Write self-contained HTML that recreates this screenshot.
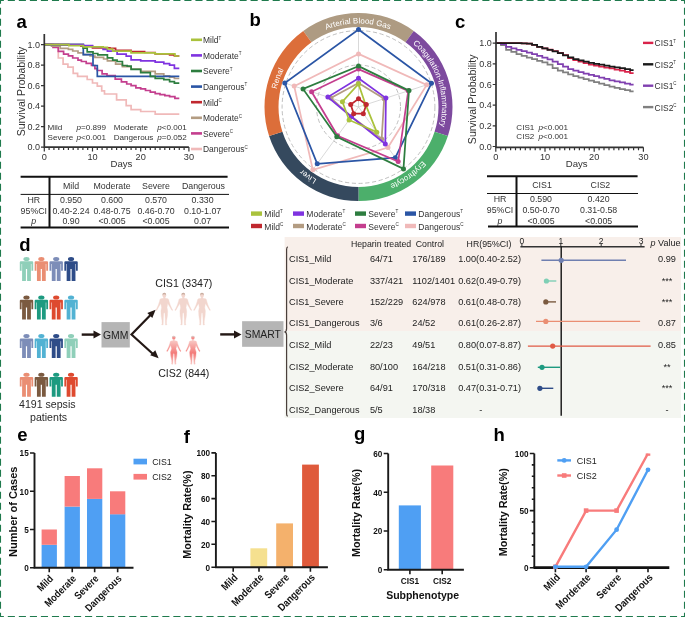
<!DOCTYPE html>
<html><head><meta charset="utf-8"><style>
html,body{margin:0;padding:0;background:#fff;}
svg{display:block;will-change:transform;}
svg text{font-family:"Liberation Sans", sans-serif;}
</style></head><body>
<svg width="685" height="617" viewBox="0 0 685 617">
<rect width="685" height="617" fill="#fff"/>
<text x="16.5" y="27.7" font-size="18.5" font-weight="bold" fill="#000">a</text>
<text x="249.6" y="25.7" font-size="18.5" font-weight="bold" fill="#000">b</text>
<text x="455.1" y="27.6" font-size="18.5" font-weight="bold" fill="#000">c</text>
<text x="19.2" y="250.5" font-size="18.5" font-weight="bold" fill="#000">d</text>
<text x="17.2" y="440.8" font-size="18.5" font-weight="bold" fill="#000">e</text>
<text x="183.8" y="443.4" font-size="18.5" font-weight="bold" fill="#000">f</text>
<text x="354" y="440.1" font-size="18.5" font-weight="bold" fill="#000">g</text>
<text x="493.4" y="440.7" font-size="18.5" font-weight="bold" fill="#000">h</text>
<path d="M44.3,44.7H58.3V58.0H63.1V64.2H67.9V67.2H73.2V73.4H77.6V76.4H87.2V79.5H92.5V83.0H97.3V86.2H101.7V90.8H104.5V94.0H116.6V99.9H126.2V105.7H131.1V109.6H140.7V111.5H155.2V114.1H179.3" fill="none" stroke="#f0b9b9" stroke-width="1.7"/>
<path d="M44.3,44.7H53.0V47.4H58.3V51.4H63.6V54.1H68.4V55.9H72.7V58.0H78.0V60.2H81.4V61.5H86.2V63.3H91.5V65.5H94.9V68.6H97.3V70.5H102.1V73.8H107.0V75.7H115.2V79.1H121.4V81.8H126.7V84.0H131.1V85.6H135.9V87.9H140.7V88.8H145.5V90.5H150.3V92.1H155.2V93.6H160.0V94.7H164.8V95.7H169.6V96.6H174.9V98.4H179.3" fill="none" stroke="#c43e8e" stroke-width="1.7"/>
<path d="M44.3,44.7H51.5V46.2H60.2V48.3H68.4V49.3H72.7V51.0H78.0V52.8H83.3V54.6H90.1V56.0H94.9V57.3H103.6V59.0H107.4V60.8H115.6V64.2H122.4V66.7H131.1V69.0H140.7V71.3H155.2V73.9H163.8V75.8H169.6V77.2H174.4V78.5H179.3" fill="none" stroke="#b39c82" stroke-width="1.7"/>
<path d="M44.3,44.7H68.4V45.2H80.9V46.2H92.5V47.8H109.9V48.3H115.6V50.3H131.1V51.6H144.6V52.5H155.2V53.9H169.6V54.9H174.4V56.0H179.3" fill="none" stroke="#c0282f" stroke-width="1.7"/>
<path d="M44.3,44.7H83.3V54.6H93.0V65.5H97.3V76.4H179.3" fill="none" stroke="#2a55a5" stroke-width="1.7"/>
<path d="M44.3,44.7H83.3V48.2H87.2V51.8H93.0V53.5H97.8V54.8H107.4V57.9H112.7V60.2H117.1V61.5H122.4V65.5H127.2V66.2H131.1V69.4H140.7V72.6H150.3V76.4H155.2V78.4H163.8V79.7H169.6V81.7H174.4V83.2H179.3" fill="none" stroke="#2d7d3f" stroke-width="1.7"/>
<path d="M44.3,44.7H83.3V45.7H92.5V46.9H103.1V49.4H107.4V51.2H117.1V54.2H126.2V56.2H131.1V59.8H140.7V60.9H155.2V62.1H163.8V63.6H169.6V65.2H174.4V68.3H179.3" fill="none" stroke="#7f33e0" stroke-width="1.7"/>
<path d="M44.3,44.7H68.9V45.7H83.3V46.9H103.1V47.3H107.4V49.0H112.7V51.2H131.1V52.9H155.2V53.9H174.9V56.0H179.3" fill="none" stroke="#aac23c" stroke-width="1.7"/>
<path d="M44.3,34V147.1H188.9" fill="none" stroke="#333" stroke-width="1.7"/>
<path d="M41,147.1H44.3M41,126.6H44.3M41,106.1H44.3M41,85.7H44.3M41,65.2H44.3M41,44.7H44.3M44.3,147.1v4.5M49.1,147.1v3M53.9,147.1v3M58.8,147.1v3M63.6,147.1v3M68.4,147.1v3M73.2,147.1v3M78.0,147.1v3M82.9,147.1v3M87.7,147.1v3M92.5,147.1v4.5M97.3,147.1v3M102.1,147.1v3M107.0,147.1v3M111.8,147.1v3M116.6,147.1v3M121.4,147.1v3M126.2,147.1v3M131.1,147.1v3M135.9,147.1v3M140.7,147.1v4.5M145.5,147.1v3M150.3,147.1v3M155.2,147.1v3M160.0,147.1v3M164.8,147.1v3M169.6,147.1v3M174.4,147.1v3M179.3,147.1v3M184.1,147.1v3M188.9,147.1v4.5" stroke="#333" stroke-width="1.2"/>
<text x="40" y="150.3" font-size="9" text-anchor="end" fill="#333">0.0</text>
<text x="40" y="129.8" font-size="9" text-anchor="end" fill="#333">0.2</text>
<text x="40" y="109.3" font-size="9" text-anchor="end" fill="#333">0.4</text>
<text x="40" y="88.9" font-size="9" text-anchor="end" fill="#333">0.6</text>
<text x="40" y="68.4" font-size="9" text-anchor="end" fill="#333">0.8</text>
<text x="40" y="47.9" font-size="9" text-anchor="end" fill="#333">1.0</text>
<text x="44.3" y="159.9" font-size="9.2" text-anchor="middle" fill="#333">0</text>
<text x="92.5" y="159.9" font-size="9.2" text-anchor="middle" fill="#333">10</text>
<text x="140.7" y="159.9" font-size="9.2" text-anchor="middle" fill="#333">20</text>
<text x="188.9" y="159.9" font-size="9.2" text-anchor="middle" fill="#333">30</text>
<text x="121.5" y="167.3" font-size="9.6" text-anchor="middle" fill="#333">Days</text>
<text transform="translate(25.3,91.5) rotate(-90)" font-size="10.55" text-anchor="middle" fill="#333">Survival Probability</text>
<g font-size="8.1" fill="#333"><text x="47.5" y="129.5">Mild</text><text x="76.4" y="129.5"><tspan font-style="italic">p</tspan>=0.899</text><text x="113.7" y="129.5">Moderate</text><text x="157.3" y="129.5"><tspan font-style="italic">p</tspan>&lt;0.001</text><text x="47.5" y="139.5">Severe</text><text x="76.4" y="139.5"><tspan font-style="italic">p</tspan>&lt;0.001</text><text x="113.7" y="139.5">Dangerous</text><text x="157.3" y="139.5"><tspan font-style="italic">p</tspan>=0.052</text></g>
<rect x="191" y="38.5" width="11" height="2.6" fill="#aac23c"/>
<text transform="translate(203,43.2) scale(0.9,1)" font-size="9.4" fill="#333">Mild<tspan font-size="5" dy="-3.6">T</tspan></text>
<rect x="191" y="54.1" width="11" height="2.6" fill="#7f33e0"/>
<text transform="translate(203,58.8) scale(0.9,1)" font-size="9.4" fill="#333">Moderate<tspan font-size="5" dy="-3.6">T</tspan></text>
<rect x="191" y="69.7" width="11" height="2.6" fill="#2d7d3f"/>
<text transform="translate(203,74.4) scale(0.9,1)" font-size="9.4" fill="#333">Severe<tspan font-size="5" dy="-3.6">T</tspan></text>
<rect x="191" y="85.3" width="11" height="2.6" fill="#2a55a5"/>
<text transform="translate(203,90.0) scale(0.9,1)" font-size="9.4" fill="#333">Dangerous<tspan font-size="5" dy="-3.6">T</tspan></text>
<rect x="191" y="100.9" width="11" height="2.6" fill="#c0282f"/>
<text transform="translate(203,105.6) scale(0.9,1)" font-size="9.4" fill="#333">Mild<tspan font-size="5" dy="-3.6">C</tspan></text>
<rect x="191" y="116.5" width="11" height="2.6" fill="#b39c82"/>
<text transform="translate(203,121.2) scale(0.9,1)" font-size="9.4" fill="#333">Moderate<tspan font-size="5" dy="-3.6">C</tspan></text>
<rect x="191" y="132.1" width="11" height="2.6" fill="#c43e8e"/>
<text transform="translate(203,136.8) scale(0.9,1)" font-size="9.4" fill="#333">Severe<tspan font-size="5" dy="-3.6">C</tspan></text>
<rect x="191" y="147.7" width="11" height="2.6" fill="#f0b9b9"/>
<text transform="translate(203,152.4) scale(0.9,1)" font-size="9.4" fill="#333">Dangerous<tspan font-size="5" dy="-3.6">C</tspan></text>
<path d="M20.6,176.7H227.6M20.6,227.6H229M49.5,176.7V227.6" stroke="#111" stroke-width="2" fill="none"/>
<path d="M20.6,194.4H229" stroke="#111" stroke-width="1" fill="none"/>
<g font-size="8.8" fill="#333" text-anchor="middle"><text x="71" y="189">Mild</text><text x="112" y="189">Moderate</text><text x="156" y="189">Severe</text><text x="203.5" y="189">Dangerous</text><text x="33.8" y="202.7">HR</text><text x="71" y="202.7">0.950</text><text x="112" y="202.7">0.600</text><text x="156" y="202.7">0.570</text><text x="202.6" y="202.7">0.330</text><text x="33.8" y="213.5">95%CI</text><text x="71" y="213.5">0.40-2.24</text><text x="112" y="213.5">0.48-0.75</text><text x="156" y="213.5">0.46-0.70</text><text x="202.6" y="213.5">0.10-1.07</text><text x="33.8" y="224.4" font-style="italic">p</text><text x="71" y="224.4">0.90</text><text x="112" y="224.4">&lt;0.005</text><text x="156" y="224.4">&lt;0.005</text><text x="202.6" y="224.4">0.07</text></g>
<path d="M303.25,30.95A94,94 0 0 1 413.75,30.95L405.52,42.28A80,80 0 0 0 311.48,42.28Z" fill="#ae9b82"/>
<path d="M413.75,30.95A94,94 0 0 1 447.90,136.05L434.58,131.72A80,80 0 0 0 405.52,42.28Z" fill="#7d4a9e"/>
<path d="M447.90,136.05A94,94 0 0 1 358.50,201.00L358.50,187.00A80,80 0 0 0 434.58,131.72Z" fill="#4caf6b"/>
<path d="M358.50,201.00A94,94 0 0 1 269.10,136.05L282.42,131.72A80,80 0 0 0 358.50,187.00Z" fill="#35495e"/>
<path d="M269.10,136.05A94,94 0 0 1 303.25,30.95L311.48,42.28A80,80 0 0 0 282.42,131.72Z" fill="#dc6e3a"/>
<defs><path id="rp0" d="M309.36,39.37A83.6,83.6 0 0 1 407.64,39.37"/><path id="rp1" d="M407.64,39.37A83.6,83.6 0 0 1 438.01,132.83"/><path id="rp2" d="M438.01,132.83A83.6,83.6 0 0 1 358.50,190.60"/><path id="rp3" d="M358.50,190.60A83.6,83.6 0 0 1 278.99,132.83"/><path id="rp4" d="M278.99,132.83A83.6,83.6 0 0 1 309.36,39.37"/></defs>
<text font-size="8.0" fill="#fff" text-anchor="middle"><textPath href="#rp0" startOffset="49.5%">Arterial Blood Gas</textPath></text>
<text font-size="8.0" fill="#fff" text-anchor="middle"><textPath href="#rp1" startOffset="50%">Coagulation-Inflammatory</textPath></text>
<text font-size="8.0" fill="#fff" text-anchor="middle"><textPath href="#rp2" startOffset="50%">Erythrocyte</textPath></text>
<text font-size="8.0" fill="#fff" text-anchor="middle"><textPath href="#rp3" startOffset="50%">Liver</textPath></text>
<text font-size="8.0" fill="#fff" text-anchor="middle"><textPath href="#rp4" startOffset="52%">Renal</textPath></text>
<circle cx="358.5" cy="107.0" r="76.4" fill="none" stroke="#b8b8b8" stroke-width="0.9" stroke-dasharray="4.2 2.6"/>
<circle cx="358.5" cy="107.0" r="42" fill="none" stroke="#b8b8b8" stroke-width="0.9" stroke-dasharray="4.2 2.6"/>
<path d="M358.5,107.0L358.50,30.00M358.5,107.0L431.73,83.21M358.5,107.0L403.76,169.29M358.5,107.0L313.24,169.29M358.5,107.0L285.27,83.21" stroke="#c8c8c8" stroke-width="0.7"/>
<path d="M358.50,53.90L426.69,84.84L387.95,147.53L312.83,169.86L294.21,86.11Z" fill="none" stroke="#f0b9b9" stroke-width="1.75"/>
<circle cx="358.50" cy="53.90" r="2.5" fill="#f0b9b9"/>
<circle cx="426.69" cy="84.84" r="2.5" fill="#f0b9b9"/>
<circle cx="387.95" cy="147.53" r="2.5" fill="#f0b9b9"/>
<circle cx="312.83" cy="169.86" r="2.5" fill="#f0b9b9"/>
<circle cx="294.21" cy="86.11" r="2.5" fill="#f0b9b9"/>
<path d="M358.50,29.50L431.45,83.30L395.30,157.64L317.24,163.79L284.79,83.05Z" fill="none" stroke="#2a55a5" stroke-width="1.75"/>
<circle cx="358.50" cy="29.50" r="2.5" fill="#2a55a5"/>
<circle cx="431.45" cy="83.30" r="2.5" fill="#2a55a5"/>
<circle cx="395.30" cy="157.64" r="2.5" fill="#2a55a5"/>
<circle cx="317.24" cy="163.79" r="2.5" fill="#2a55a5"/>
<circle cx="284.79" cy="83.05" r="2.5" fill="#2a55a5"/>
<path d="M358.50,69.10L408.24,90.84L398.18,161.61L337.57,135.80L311.61,91.77Z" fill="none" stroke="#c43e8e" stroke-width="1.75"/>
<circle cx="358.50" cy="69.10" r="2.5" fill="#c43e8e"/>
<circle cx="408.24" cy="90.84" r="2.5" fill="#c43e8e"/>
<circle cx="398.18" cy="161.61" r="2.5" fill="#c43e8e"/>
<circle cx="337.57" cy="135.80" r="2.5" fill="#c43e8e"/>
<circle cx="311.61" cy="91.77" r="2.5" fill="#c43e8e"/>
<path d="M358.50,66.10L409.00,90.59L403.47,168.89L336.81,136.85L303.05,88.98Z" fill="none" stroke="#2d7d3f" stroke-width="1.75"/>
<circle cx="358.50" cy="66.10" r="2.5" fill="#2d7d3f"/>
<circle cx="409.00" cy="90.59" r="2.5" fill="#2d7d3f"/>
<circle cx="403.47" cy="168.89" r="2.5" fill="#2d7d3f"/>
<circle cx="336.81" cy="136.85" r="2.5" fill="#2d7d3f"/>
<circle cx="303.05" cy="88.98" r="2.5" fill="#2d7d3f"/>
<path d="M358.50,83.00L384.18,98.66L381.66,138.88L351.45,116.71L330.92,98.04Z" fill="none" stroke="#b39c82" stroke-width="1.75"/>
<circle cx="358.50" cy="83.00" r="2.5" fill="#b39c82"/>
<circle cx="384.18" cy="98.66" r="2.5" fill="#b39c82"/>
<circle cx="381.66" cy="138.88" r="2.5" fill="#b39c82"/>
<circle cx="351.45" cy="116.71" r="2.5" fill="#b39c82"/>
<circle cx="330.92" cy="98.04" r="2.5" fill="#b39c82"/>
<path d="M358.50,78.20L385.89,98.10L385.30,143.89L351.39,116.79L327.88,97.05Z" fill="none" stroke="#7f33e0" stroke-width="1.75"/>
<circle cx="358.50" cy="78.20" r="2.5" fill="#7f33e0"/>
<circle cx="385.89" cy="98.10" r="2.5" fill="#7f33e0"/>
<circle cx="385.30" cy="143.89" r="2.5" fill="#7f33e0"/>
<circle cx="351.39" cy="116.79" r="2.5" fill="#7f33e0"/>
<circle cx="327.88" cy="97.05" r="2.5" fill="#7f33e0"/>
<path d="M358.50,84.00L365.63,104.68L376.78,132.16L349.10,119.94L342.43,101.78Z" fill="none" stroke="#aac23c" stroke-width="1.75"/>
<circle cx="358.50" cy="84.00" r="2.5" fill="#aac23c"/>
<circle cx="365.63" cy="104.68" r="2.5" fill="#aac23c"/>
<circle cx="376.78" cy="132.16" r="2.5" fill="#aac23c"/>
<circle cx="349.10" cy="119.94" r="2.5" fill="#aac23c"/>
<circle cx="342.43" cy="101.78" r="2.5" fill="#aac23c"/>
<path d="M358.50,98.80L366.30,104.47L363.32,113.63L353.68,113.63L350.70,104.47Z" fill="none" stroke="#c0282f" stroke-width="1.75"/>
<circle cx="358.50" cy="98.80" r="2.5" fill="#c0282f"/>
<circle cx="366.30" cy="104.47" r="2.5" fill="#c0282f"/>
<circle cx="363.32" cy="113.63" r="2.5" fill="#c0282f"/>
<circle cx="353.68" cy="113.63" r="2.5" fill="#c0282f"/>
<circle cx="350.70" cy="104.47" r="2.5" fill="#c0282f"/>
<rect x="251" y="211.4" width="11" height="4.4" fill="#aac23c"/>
<text transform="translate(264.3,217.1) scale(0.92,1)" font-size="9.3" fill="#333">Mild<tspan font-size="5" dy="-3.7">T</tspan></text>
<rect x="293" y="211.4" width="11" height="4.4" fill="#7f33e0"/>
<text transform="translate(306.3,217.1) scale(0.92,1)" font-size="9.3" fill="#333">Moderate<tspan font-size="5" dy="-3.7">T</tspan></text>
<rect x="355" y="211.4" width="11" height="4.4" fill="#2d7d3f"/>
<text transform="translate(368.3,217.1) scale(0.92,1)" font-size="9.3" fill="#333">Severe<tspan font-size="5" dy="-3.7">T</tspan></text>
<rect x="405" y="211.4" width="11" height="4.4" fill="#2a55a5"/>
<text transform="translate(418.3,217.1) scale(0.92,1)" font-size="9.3" fill="#333">Dangerous<tspan font-size="5" dy="-3.7">T</tspan></text>
<rect x="251" y="223.8" width="11" height="4.4" fill="#c0282f"/>
<text transform="translate(264.3,229.5) scale(0.92,1)" font-size="9.3" fill="#333">Mild<tspan font-size="5" dy="-3.7">C</tspan></text>
<rect x="293" y="223.8" width="11" height="4.4" fill="#b39c82"/>
<text transform="translate(306.3,229.5) scale(0.92,1)" font-size="9.3" fill="#333">Moderate<tspan font-size="5" dy="-3.7">C</tspan></text>
<rect x="355" y="223.8" width="11" height="4.4" fill="#c43e8e"/>
<text transform="translate(368.3,229.5) scale(0.92,1)" font-size="9.3" fill="#333">Severe<tspan font-size="5" dy="-3.7">C</tspan></text>
<rect x="405" y="223.8" width="11" height="4.4" fill="#f0b9b9"/>
<text transform="translate(418.3,229.5) scale(0.92,1)" font-size="9.3" fill="#333">Dangerous<tspan font-size="5" dy="-3.7">C</tspan></text>
<path d="M495.8,43.2H501.0V45.2H506.1V49.9H511.3V51.9H516.5V54.0H521.6V55.9H526.8V57.6H532.0V59.2H537.1V60.8H542.3V62.3H547.5V64.7H552.6V68.1H557.8V70.6H563.0V72.4H568.1V74.4H573.3V76.1H578.5V77.6H583.6V79.1H588.8V80.6H594.0V82.1H599.1V83.7H604.3V85.2H609.5V86.7H614.6V87.9H619.8V89.1H625.0V90.2H630.1V91.4H633.6" fill="none" stroke="#808080" stroke-width="1.75"/>
<path d="M495.8,43.2H501.0V44.0H506.1V46.9H511.3V48.4H516.5V49.8H521.6V51.2H526.8V52.6H532.0V54.1H537.1V55.8H542.3V57.5H547.5V59.4H552.6V61.6H557.8V64.0H563.0V66.6H568.1V69.0H573.3V70.7H578.5V72.1H583.6V73.5H588.8V74.8H594.0V76.2H599.1V77.5H604.3V78.9H609.5V80.3H614.6V81.3H619.8V82.4H625.0V83.5H630.1V84.5H633.6" fill="none" stroke="#8040b0" stroke-width="1.75"/>
<path d="M495.8,43.2H501.0H506.1H511.3H516.5H521.6V43.3H526.8V43.7H532.0V44.9H537.1V46.8H542.3V48.3H547.5V49.7H552.6V51.1H557.8V52.9H563.0V55.2H568.1V58.1H573.3V60.1H578.5V61.6H583.6V63.0H588.8V64.5H594.0V65.6H599.1V66.5H604.3V67.5H609.5V68.4H614.6V69.6H619.8V70.7H625.0V71.9H630.1V73.0H633.6" fill="none" stroke="#d9234a" stroke-width="1.75"/>
<path d="M495.8,43.2H501.0H506.1H511.3H516.5H521.6V43.3H526.8V43.7H532.0V44.9H537.1V46.8H542.3V48.3H547.5V49.8H552.6V51.3H557.8V53.2H563.0V55.4H568.1V57.4H573.3V59.0H578.5V60.3H583.6V61.6H588.8V62.9H594.0V63.9H599.1V64.7H604.3V65.6H609.5V66.5H614.6V67.3H619.8V68.2H625.0V69.1H630.1V70.0H633.6" fill="none" stroke="#1a1a1a" stroke-width="1.75"/>
<path d="M496,32V147.3H643.4" fill="none" stroke="#333" stroke-width="1.7"/>
<path d="M492.7,146.5H496M492.7,125.8H496M492.7,105.2H496M492.7,84.5H496M492.7,63.9H496M492.7,43.2H496M495.8,147.3v4.5M500.7,147.3v3M505.6,147.3v3M510.6,147.3v3M515.5,147.3v3M520.4,147.3v3M525.3,147.3v3M530.2,147.3v3M535.2,147.3v3M540.1,147.3v3M545.0,147.3v4.5M549.9,147.3v3M554.8,147.3v3M559.8,147.3v3M564.7,147.3v3M569.6,147.3v3M574.5,147.3v3M579.4,147.3v3M584.4,147.3v3M589.3,147.3v3M594.2,147.3v4.5M599.1,147.3v3M604.0,147.3v3M609.0,147.3v3M613.9,147.3v3M618.8,147.3v3M623.7,147.3v3M628.6,147.3v3M633.6,147.3v3M638.5,147.3v3M643.4,147.3v4.5" stroke="#333" stroke-width="1.2"/>
<text x="491.7" y="149.7" font-size="9" text-anchor="end" fill="#333">0.0</text>
<text x="491.7" y="129.0" font-size="9" text-anchor="end" fill="#333">0.2</text>
<text x="491.7" y="108.4" font-size="9" text-anchor="end" fill="#333">0.4</text>
<text x="491.7" y="87.7" font-size="9" text-anchor="end" fill="#333">0.6</text>
<text x="491.7" y="67.1" font-size="9" text-anchor="end" fill="#333">0.8</text>
<text x="491.7" y="46.4" font-size="9" text-anchor="end" fill="#333">1.0</text>
<text x="495.8" y="159.9" font-size="9.2" text-anchor="middle" fill="#333">0</text>
<text x="545.0" y="159.9" font-size="9.2" text-anchor="middle" fill="#333">10</text>
<text x="594.2" y="159.9" font-size="9.2" text-anchor="middle" fill="#333">20</text>
<text x="643.4" y="159.9" font-size="9.2" text-anchor="middle" fill="#333">30</text>
<text x="576.7" y="167.3" font-size="9.6" text-anchor="middle" fill="#333">Days</text>
<text transform="translate(476,99.3) rotate(-90)" font-size="10.55" text-anchor="middle" fill="#333">Survival Probability</text>
<g font-size="8.1" fill="#333"><text x="516.3" y="130">CIS1</text><text x="538.5" y="130"><tspan font-style="italic">p</tspan>&lt;0.001</text><text x="516.3" y="139.2">CIS2</text><text x="538.5" y="139.2"><tspan font-style="italic">p</tspan>&lt;0.001</text></g>
<rect x="643" y="41.7" width="10.3" height="2.4" fill="#d9234a"/>
<text transform="translate(654.6,46.4) scale(0.88,1)" font-size="9.6" fill="#333">CIS1<tspan font-size="5" dy="-3.9">T</tspan></text>
<rect x="643" y="63.1" width="10.3" height="2.4" fill="#1a1a1a"/>
<text transform="translate(654.6,67.8) scale(0.88,1)" font-size="9.6" fill="#333">CIS2<tspan font-size="5" dy="-3.9">T</tspan></text>
<rect x="643" y="84.5" width="10.3" height="2.4" fill="#8040b0"/>
<text transform="translate(654.6,89.2) scale(0.88,1)" font-size="9.6" fill="#333">CIS1<tspan font-size="5" dy="-3.9">C</tspan></text>
<rect x="643" y="105.9" width="10.3" height="2.4" fill="#808080"/>
<text transform="translate(654.6,110.6) scale(0.88,1)" font-size="9.6" fill="#333">CIS2<tspan font-size="5" dy="-3.9">C</tspan></text>
<path d="M487,176.2H637.6M488,226.5H638M516.5,176.2V226.5" stroke="#111" stroke-width="2" fill="none"/>
<path d="M487,193.5H638" stroke="#111" stroke-width="1" fill="none"/>
<g font-size="8.8" fill="#333" text-anchor="middle"><text x="542" y="188">CIS1</text><text x="600.4" y="188">CIS2</text><text x="500" y="201.6">HR</text><text x="541" y="201.6">0.590</text><text x="598.6" y="201.6">0.420</text><text x="500" y="213.0">95%CI</text><text x="541" y="213.0">0.50-0.70</text><text x="598.6" y="213.0">0.31-0.58</text><text x="500" y="224.4" font-style="italic">p</text><text x="541" y="224.4">&lt;0.005</text><text x="598.6" y="224.4">&lt;0.005</text></g>
<ellipse cx="26.5" cy="258.90" rx="3.1" ry="2.0" fill="#8fcfb9"/><path d="M19.80,262.20Q19.80,261.20 20.80,261.20H32.20Q33.20,261.20 33.20,262.20V270.70H31.40V264.00H30.90V280.90H27.10V269.00H25.90V280.90H22.10V264.00H21.60V270.70H19.80Z" fill="#8fcfb9"/><ellipse cx="41.35" cy="258.90" rx="3.1" ry="2.0" fill="#ea8e73"/><path d="M34.65,262.20Q34.65,261.20 35.65,261.20H47.05Q48.05,261.20 48.05,262.20V270.70H46.25V264.00H45.75V280.90H41.95V269.00H40.75V280.90H36.95V264.00H36.45V270.70H34.65Z" fill="#ea8e73"/><ellipse cx="56.2" cy="258.90" rx="3.1" ry="2.0" fill="#7d8db8"/><path d="M49.50,262.20Q49.50,261.20 50.50,261.20H61.90Q62.90,261.20 62.90,262.20V270.70H61.10V264.00H60.60V280.90H56.80V269.00H55.60V280.90H51.80V264.00H51.30V270.70H49.50Z" fill="#7d8db8"/><ellipse cx="71.05" cy="258.90" rx="3.1" ry="2.0" fill="#2e4c88"/><path d="M64.35,262.20Q64.35,261.20 65.35,261.20H76.75Q77.75,261.20 77.75,262.20V270.70H75.95V264.00H75.45V280.90H71.65V269.00H70.45V280.90H66.65V264.00H66.15V270.70H64.35Z" fill="#2e4c88"/><ellipse cx="26.5" cy="297.50" rx="3.1" ry="2.0" fill="#7b5a40"/><path d="M19.80,300.80Q19.80,299.80 20.80,299.80H32.20Q33.20,299.80 33.20,300.80V309.30H31.40V302.60H30.90V319.50H27.10V307.60H25.90V319.50H22.10V302.60H21.60V309.30H19.80Z" fill="#7b5a40"/><ellipse cx="41.35" cy="297.50" rx="3.1" ry="2.0" fill="#1d9a80"/><path d="M34.65,300.80Q34.65,299.80 35.65,299.80H47.05Q48.05,299.80 48.05,300.80V309.30H46.25V302.60H45.75V319.50H41.95V307.60H40.75V319.50H36.95V302.60H36.45V309.30H34.65Z" fill="#1d9a80"/><ellipse cx="56.2" cy="297.50" rx="3.1" ry="2.0" fill="#de4a2f"/><path d="M49.50,300.80Q49.50,299.80 50.50,299.80H61.90Q62.90,299.80 62.90,300.80V309.30H61.10V302.60H60.60V319.50H56.80V307.60H55.60V319.50H51.80V302.60H51.30V309.30H49.50Z" fill="#de4a2f"/><ellipse cx="71.05" cy="297.50" rx="3.1" ry="2.0" fill="#52b2d3"/><path d="M64.35,300.80Q64.35,299.80 65.35,299.80H76.75Q77.75,299.80 77.75,300.80V309.30H75.95V302.60H75.45V319.50H71.65V307.60H70.45V319.50H66.65V302.60H66.15V309.30H64.35Z" fill="#52b2d3"/><ellipse cx="26.5" cy="336.10" rx="3.1" ry="2.0" fill="#7d8db8"/><path d="M19.80,339.40Q19.80,338.40 20.80,338.40H32.20Q33.20,338.40 33.20,339.40V347.90H31.40V341.20H30.90V358.10H27.10V346.20H25.90V358.10H22.10V341.20H21.60V347.90H19.80Z" fill="#7d8db8"/><ellipse cx="41.35" cy="336.10" rx="3.1" ry="2.0" fill="#52b2d3"/><path d="M34.65,339.40Q34.65,338.40 35.65,338.40H47.05Q48.05,338.40 48.05,339.40V347.90H46.25V341.20H45.75V358.10H41.95V346.20H40.75V358.10H36.95V341.20H36.45V347.90H34.65Z" fill="#52b2d3"/><ellipse cx="56.2" cy="336.10" rx="3.1" ry="2.0" fill="#2e4c88"/><path d="M49.50,339.40Q49.50,338.40 50.50,338.40H61.90Q62.90,338.40 62.90,339.40V347.90H61.10V341.20H60.60V358.10H56.80V346.20H55.60V358.10H51.80V341.20H51.30V347.90H49.50Z" fill="#2e4c88"/><ellipse cx="71.05" cy="336.10" rx="3.1" ry="2.0" fill="#8fcfb9"/><path d="M64.35,339.40Q64.35,338.40 65.35,338.40H76.75Q77.75,338.40 77.75,339.40V347.90H75.95V341.20H75.45V358.10H71.65V346.20H70.45V358.10H66.65V341.20H66.15V347.90H64.35Z" fill="#8fcfb9"/><ellipse cx="26.5" cy="374.70" rx="3.1" ry="2.0" fill="#ea8e73"/><path d="M19.80,378.00Q19.80,377.00 20.80,377.00H32.20Q33.20,377.00 33.20,378.00V386.50H31.40V379.80H30.90V396.70H27.10V384.80H25.90V396.70H22.10V379.80H21.60V386.50H19.80Z" fill="#ea8e73"/><ellipse cx="41.35" cy="374.70" rx="3.1" ry="2.0" fill="#7b5a40"/><path d="M34.65,378.00Q34.65,377.00 35.65,377.00H47.05Q48.05,377.00 48.05,378.00V386.50H46.25V379.80H45.75V396.70H41.95V384.80H40.75V396.70H36.95V379.80H36.45V386.50H34.65Z" fill="#7b5a40"/><ellipse cx="56.2" cy="374.70" rx="3.1" ry="2.0" fill="#1d9a80"/><path d="M49.50,378.00Q49.50,377.00 50.50,377.00H61.90Q62.90,377.00 62.90,378.00V386.50H61.10V379.80H60.60V396.70H56.80V384.80H55.60V396.70H51.80V379.80H51.30V386.50H49.50Z" fill="#1d9a80"/><ellipse cx="71.05" cy="374.70" rx="3.1" ry="2.0" fill="#de4a2f"/><path d="M64.35,378.00Q64.35,377.00 65.35,377.00H76.75Q77.75,377.00 77.75,378.00V386.50H75.95V379.80H75.45V396.70H71.65V384.80H70.45V396.70H66.65V379.80H66.15V386.50H64.35Z" fill="#de4a2f"/>
<text x="47.3" y="408.2" font-size="10.6" text-anchor="middle" fill="#2a2a2a">4191 sepsis</text>
<text x="48.6" y="420.8" font-size="10.6" text-anchor="middle" fill="#2a2a2a">patients</text>
<path d="M81.7,334.6H95" stroke="#231815" stroke-width="2.4"/><path d="M101,334.6L93.5,330.6V338.6Z" fill="#231815"/>
<rect x="101.5" y="322.1" width="28.3" height="25.4" fill="#b5b5b5"/>
<text x="115.6" y="338.6" font-size="10.4" text-anchor="middle" fill="#222">GMM</text>
<path d="M150.5,315 L131.5,334.5 L153,354" fill="none" stroke="#231815" stroke-width="2.2"/>
<path d="M155.6,309.8L147.3,313.0L152.3,318.0Z" fill="#231815"/>
<path d="M158.6,358.2L150.2,355.3L155.3,350.2Z" fill="#231815"/>
<text x="183.8" y="286.5" font-size="10.6" text-anchor="middle" fill="#222">CIS1 (3347)</text>
<text x="183.8" y="377.2" font-size="10.6" text-anchor="middle" fill="#222">CIS2 (844)</text>
<defs><linearGradient id="fg" x1="0" y1="0" x2="0" y2="1"><stop offset="0" stop-color="#f9cdc9"/><stop offset="0.55" stop-color="#f37a78"/><stop offset="1" stop-color="#f8c2bf"/></linearGradient></defs>
<path d="M165.11,297.33 L165.21,298.33 L168.02,298.84 L168.63,299.44 L169.13,301.45 L170.24,304.97 L171.85,308.60 L172.75,310.01 L172.35,310.61 L171.55,309.91 L169.94,306.99 L167.72,303.47 L167.02,307.49 L167.72,311.01 L167.42,316.04 L166.61,320.57 L166.51,323.69 L167.02,324.70 L165.51,325.00 L165.41,323.69 L165.21,318.06 L164.90,313.53 L164.30,312.62 L163.70,313.53 L163.39,318.06 L163.19,323.69 L163.09,325.00 L161.58,324.70 L162.09,323.69 L161.99,320.57 L161.18,316.04 L160.88,311.01 L161.58,307.49 L160.88,303.47 L158.67,306.99 L157.06,309.91 L156.25,310.61 L155.85,310.01 L156.75,308.60 L158.36,304.97 L159.47,301.45 L159.97,299.44 L160.58,298.84 L163.39,298.33 L163.50,297.33Z" fill="#f2d6ce" stroke="#f2d6ce" stroke-width="0.35" stroke-linejoin="round"/><ellipse cx="164.30" cy="295.21" rx="1.91" ry="2.42" fill="#f2d6ce"/><path d="M162.39,294.91Q162.39,292.80 164.30,292.80Q166.21,292.80 166.21,294.91Q164.30,293.81 162.39,294.91Z" fill="#c9aea0"/>
<path d="M184.11,297.33 L184.21,298.33 L187.02,298.84 L187.63,299.44 L188.13,301.45 L189.24,304.97 L190.85,308.60 L191.75,310.01 L191.35,310.61 L190.55,309.91 L188.94,306.99 L186.72,303.47 L186.02,307.49 L186.72,311.01 L186.42,316.04 L185.61,320.57 L185.51,323.69 L186.02,324.70 L184.51,325.00 L184.41,323.69 L184.21,318.06 L183.90,313.53 L183.30,312.62 L182.70,313.53 L182.39,318.06 L182.19,323.69 L182.09,325.00 L180.58,324.70 L181.09,323.69 L180.99,320.57 L180.18,316.04 L179.88,311.01 L180.58,307.49 L179.88,303.47 L177.67,306.99 L176.06,309.91 L175.25,310.61 L174.85,310.01 L175.75,308.60 L177.36,304.97 L178.47,301.45 L178.97,299.44 L179.58,298.84 L182.39,298.33 L182.50,297.33Z" fill="#f2d6ce" stroke="#f2d6ce" stroke-width="0.35" stroke-linejoin="round"/><ellipse cx="183.30" cy="295.21" rx="1.91" ry="2.42" fill="#f2d6ce"/><path d="M181.39,294.91Q181.39,292.80 183.30,292.80Q185.21,292.80 185.21,294.91Q183.30,293.81 181.39,294.91Z" fill="#c9aea0"/>
<path d="M202.81,297.33 L202.91,298.33 L205.72,298.84 L206.33,299.44 L206.83,301.45 L207.94,304.97 L209.55,308.60 L210.45,310.01 L210.05,310.61 L209.25,309.91 L207.63,306.99 L205.42,303.47 L204.72,307.49 L205.42,311.01 L205.12,316.04 L204.31,320.57 L204.21,323.69 L204.72,324.70 L203.21,325.00 L203.11,323.69 L202.91,318.06 L202.60,313.53 L202.00,312.62 L201.40,313.53 L201.09,318.06 L200.89,323.69 L200.79,325.00 L199.28,324.70 L199.79,323.69 L199.69,320.57 L198.88,316.04 L198.58,311.01 L199.28,307.49 L198.58,303.47 L196.37,306.99 L194.75,309.91 L193.95,310.61 L193.55,310.01 L194.45,308.60 L196.06,304.97 L197.17,301.45 L197.67,299.44 L198.28,298.84 L201.09,298.33 L201.19,297.33Z" fill="#f2d6ce" stroke="#f2d6ce" stroke-width="0.35" stroke-linejoin="round"/><ellipse cx="202.00" cy="295.21" rx="1.91" ry="2.42" fill="#f2d6ce"/><path d="M200.09,294.91Q200.09,292.80 202.00,292.80Q203.91,292.80 203.91,294.91Q202.00,293.81 200.09,294.91Z" fill="#c9aea0"/>
<path d="M174.52,339.73 L174.60,340.63 L176.75,341.07 L177.29,341.61 L177.73,343.40 L178.72,346.53 L180.15,349.74 L180.95,350.99 L180.59,351.53 L179.88,350.90 L178.45,348.31 L176.84,345.18 L175.95,348.76 L177.02,351.89 L176.75,356.36 L175.86,360.38 L175.77,363.15 L176.21,364.04 L174.87,364.31 L174.78,363.15 L174.60,358.14 L174.34,354.12 L173.80,353.32 L173.26,354.12 L173.00,358.14 L172.82,363.15 L172.73,364.31 L171.39,364.04 L171.83,363.15 L171.74,360.38 L170.85,356.36 L170.58,351.89 L171.66,348.76 L170.76,345.18 L169.15,348.31 L167.72,350.90 L167.01,351.53 L166.65,350.99 L167.45,349.74 L168.88,346.53 L169.87,343.40 L170.31,341.61 L170.85,341.07 L173.00,340.63 L173.09,339.73Z" fill="url(#fg)" stroke="url(#fg)" stroke-width="0.35" stroke-linejoin="round"/><ellipse cx="173.80" cy="337.86" rx="1.70" ry="2.15" fill="url(#fg)"/><path d="M172.10,337.59Q172.10,335.71 173.80,335.71Q175.50,335.71 175.50,337.59Q173.80,336.60 172.10,337.59Z" fill="#d8c4c0"/>
<path d="M193.62,339.73 L193.70,340.63 L195.85,341.07 L196.39,341.61 L196.83,343.40 L197.82,346.53 L199.25,349.74 L200.05,350.99 L199.69,351.53 L198.98,350.90 L197.55,348.31 L195.94,345.18 L195.05,348.76 L196.12,351.89 L195.85,356.36 L194.96,360.38 L194.87,363.15 L195.31,364.04 L193.97,364.31 L193.88,363.15 L193.70,358.14 L193.44,354.12 L192.90,353.32 L192.36,354.12 L192.10,358.14 L191.92,363.15 L191.83,364.31 L190.49,364.04 L190.93,363.15 L190.84,360.38 L189.95,356.36 L189.68,351.89 L190.75,348.76 L189.86,345.18 L188.25,348.31 L186.82,350.90 L186.11,351.53 L185.75,350.99 L186.55,349.74 L187.98,346.53 L188.97,343.40 L189.41,341.61 L189.95,341.07 L192.10,340.63 L192.19,339.73Z" fill="url(#fg)" stroke="url(#fg)" stroke-width="0.35" stroke-linejoin="round"/><ellipse cx="192.90" cy="337.86" rx="1.70" ry="2.15" fill="url(#fg)"/><path d="M191.20,337.59Q191.20,335.71 192.90,335.71Q194.60,335.71 194.60,337.59Q192.90,336.60 191.20,337.59Z" fill="#d8c4c0"/>
<path d="M220.2,334.4H235" stroke="#231815" stroke-width="2.4"/><path d="M241.5,334.4L234,330.4V338.4Z" fill="#231815"/>
<rect x="242.1" y="321.2" width="41.4" height="25.6" fill="#b5b5b5"/>
<text x="262.8" y="338.3" font-size="10.4" text-anchor="middle" fill="#222">SMART</text>
<rect x="284.6" y="237" width="396.4" height="94" fill="#f8efea"/>
<rect x="284.6" y="331" width="396.4" height="87" fill="#f4f6f1"/>
<path d="M287.8,246.8 Q286.6,247.3 286.6,249.5 V328.5 Q286.6,331.9 284.4,331.9 Q286.6,331.9 286.6,335.3 V414 Q286.6,415.9 287.8,416.3" fill="none" stroke="#4a403c" stroke-width="1.2"/>
<g font-size="9.2" fill="#222"><text x="381.1" y="246.9" text-anchor="middle" font-size="8.75">Heparin treated</text><text x="429.9" y="246.9" text-anchor="middle" font-size="8.75">Control</text><text x="466.6" y="246.9" font-size="8.75">HR(95%CI)</text><text x="289" y="261.7">CIS1_Mild</text><text x="369.9" y="261.7">64/71</text><text x="412.3" y="261.7">176/189</text><text x="458.2" y="261.7">1.00(0.40-2.52)</text><text x="667" y="261.7" text-anchor="middle">0.99</text><text x="289" y="283.8">CIS1_Moderate</text><text x="369.9" y="283.8">337/421</text><text x="412.3" y="283.8">1102/1401</text><text x="458.2" y="283.8">0.62(0.49-0.79)</text><text x="667" y="284.0" text-anchor="middle">***</text><text x="289" y="305.0">CIS1_Severe</text><text x="369.9" y="305.0">152/229</text><text x="412.3" y="305.0">624/978</text><text x="458.2" y="305.0">0.61(0.48-0.78)</text><text x="667" y="305.2" text-anchor="middle">***</text><text x="289" y="325.9">CIS1_Dangerous</text><text x="369.9" y="325.9">3/6</text><text x="412.3" y="325.9">24/52</text><text x="458.2" y="325.9">0.61(0.26-2.87)</text><text x="667" y="325.9" text-anchor="middle">0.87</text><text x="289" y="348.2">CIS2_Mild</text><text x="369.9" y="348.2">22/23</text><text x="412.3" y="348.2">49/51</text><text x="458.2" y="348.2">0.80(0.07-8.87)</text><text x="667" y="348.2" text-anchor="middle">0.85</text><text x="289" y="369.7">CIS2_Moderate</text><text x="369.9" y="369.7">80/100</text><text x="412.3" y="369.7">164/218</text><text x="458.2" y="369.7">0.51(0.31-0.86)</text><text x="667" y="369.9" text-anchor="middle">**</text><text x="289" y="390.9">CIS2_Severe</text><text x="369.9" y="390.9">64/91</text><text x="412.3" y="390.9">170/318</text><text x="458.2" y="390.9">0.47(0.31-0.71)</text><text x="667" y="391.1" text-anchor="middle">***</text><text x="289" y="412.5">CIS2_Dangerous</text><text x="369.9" y="412.5">5/5</text><text x="412.3" y="412.5">18/38</text><text x="480.7" y="412.5" text-anchor="middle">-</text><text x="667" y="412.5" text-anchor="middle">-</text></g>
<path d="M520.4,246.7H644.6" stroke="#333" stroke-width="1.4"/>
<path d="M521.9,246.5v-3M560.8,246.5v-3M601.2,246.5v-3M641,246.5v-3" stroke="#333" stroke-width="1"/>
<text x="521.9" y="244" font-size="8.5" text-anchor="middle" fill="#222">0</text>
<text x="560.8" y="244" font-size="8.5" text-anchor="middle" fill="#222">1</text>
<text x="601.2" y="244" font-size="8.5" text-anchor="middle" fill="#222">2</text>
<text x="641" y="244" font-size="8.5" text-anchor="middle" fill="#222">3</text>
<text x="650.6" y="245.6" font-size="9" fill="#222"><tspan font-style="italic">p</tspan> Value</text>
<path d="M561.2,246.5V415.8" stroke="#111" stroke-width="1.4"/>
<path d="M541.4,260.3H626" stroke="#6f7fb0" stroke-width="1.4"/><circle cx="561.2" cy="260.3" r="2.6" fill="#6f7fb0"/>
<path d="M546,281H556.3" stroke="#7fcfb5" stroke-width="1.4"/><circle cx="546.4" cy="281" r="2.6" fill="#7fcfb5"/>
<path d="M546,301.9H556" stroke="#7b5a40" stroke-width="1.4"/><circle cx="545.8" cy="301.9" r="2.6" fill="#7b5a40"/>
<path d="M536,321.4H640.1" stroke="#ea8e73" stroke-width="1.4"/><circle cx="545.8" cy="321.4" r="2.6" fill="#ea8e73"/>
<path d="M527.9,346.1H650.6" stroke="#e05a45" stroke-width="1.4"/><circle cx="552.7" cy="346.1" r="2.6" fill="#e05a45"/>
<path d="M537.8,367.3H560.2" stroke="#1d9a80" stroke-width="1.4"/><circle cx="542" cy="367.3" r="2.6" fill="#1d9a80"/>
<path d="M539.9,388.3H553.3" stroke="#2e4c88" stroke-width="1.4"/><circle cx="539.9" cy="388.3" r="2.6" fill="#2e4c88"/>
<rect x="41.6" y="544.8" width="15.3" height="23.0" fill="#4f9ff3"/>
<rect x="41.6" y="529.5" width="15.3" height="15.3" fill="#f87b7b"/>
<rect x="64.6" y="506.6" width="15.3" height="61.2" fill="#4f9ff3"/>
<rect x="64.6" y="476.0" width="15.3" height="30.6" fill="#f87b7b"/>
<rect x="87" y="498.9" width="15.3" height="68.9" fill="#4f9ff3"/>
<rect x="87" y="468.3" width="15.3" height="30.6" fill="#f87b7b"/>
<rect x="110" y="514.2" width="15.3" height="53.6" fill="#4f9ff3"/>
<rect x="110" y="491.3" width="15.3" height="23.0" fill="#f87b7b"/>
<path d="M34.5,452.9V567.8H133.5" fill="none" stroke="#1a1a1a" stroke-width="1.9"/>
<path d="M30.0,567.8H34.5M30.0,529.5H34.5M30.0,491.3H34.5M30.0,453.0H34.5M49.25,567.8v4.5M72.25,567.8v4.5M94.65,567.8v4.5M117.65,567.8v4.5" stroke="#1a1a1a" stroke-width="1.6"/>
<text transform="translate(28.7,571.2) scale(0.87,1)" font-size="9.4" font-weight="bold" text-anchor="end" fill="#111">0</text>
<text transform="translate(28.7,532.9) scale(0.87,1)" font-size="9.4" font-weight="bold" text-anchor="end" fill="#111">5</text>
<text transform="translate(28.7,494.7) scale(0.87,1)" font-size="9.4" font-weight="bold" text-anchor="end" fill="#111">10</text>
<text transform="translate(28.7,456.4) scale(0.87,1)" font-size="9.4" font-weight="bold" text-anchor="end" fill="#111">15</text>
<text transform="translate(53.8,579.3) rotate(-45) scale(0.86,1)" font-size="10.4" font-weight="bold" text-anchor="end" fill="#111">Mild</text>
<text transform="translate(76.8,579.3) rotate(-45) scale(0.86,1)" font-size="10.4" font-weight="bold" text-anchor="end" fill="#111">Moderate</text>
<text transform="translate(99.2,579.3) rotate(-45) scale(0.86,1)" font-size="10.4" font-weight="bold" text-anchor="end" fill="#111">Severe</text>
<text transform="translate(122.2,579.3) rotate(-45) scale(0.86,1)" font-size="10.4" font-weight="bold" text-anchor="end" fill="#111">Dangerous</text>
<text transform="translate(17.3,511.8) rotate(-90)" font-size="11" font-weight="bold" text-anchor="middle" fill="#111">Number of Cases</text>
<rect x="133.5" y="458.7" width="13.5" height="5.7" fill="#4f9ff3"/><rect x="133.5" y="473.9" width="13.5" height="5.7" fill="#f87b7b"/>
<text x="152.2" y="464.8" font-size="8.8" fill="#222">CIS1</text><text x="152.2" y="480" font-size="8.8" fill="#222">CIS2</text>
<rect x="250.4" y="548.3" width="16.8" height="18.9" fill="#f5e08f"/>
<rect x="276.2" y="523.4" width="16.8" height="43.8" fill="#f4b16c"/>
<rect x="302.1" y="464.6" width="16.8" height="102.6" fill="#df5a3b"/>
<path d="M215.9,452.9V567.2H327.9" fill="none" stroke="#1a1a1a" stroke-width="1.9"/>
<path d="M211.4,567.2H215.9M211.4,544.3H215.9M211.4,521.5H215.9M211.4,498.6H215.9M211.4,475.8H215.9M211.4,452.9H215.9M233.2,567.2v4.5M259,567.2v4.5M284.6,567.2v4.5M310.4,567.2v4.5" stroke="#1a1a1a" stroke-width="1.6"/>
<text transform="translate(210.1,570.6) scale(0.87,1)" font-size="9.4" font-weight="bold" text-anchor="end" fill="#111">0</text>
<text transform="translate(210.1,547.7) scale(0.87,1)" font-size="9.4" font-weight="bold" text-anchor="end" fill="#111">20</text>
<text transform="translate(210.1,524.9) scale(0.87,1)" font-size="9.4" font-weight="bold" text-anchor="end" fill="#111">40</text>
<text transform="translate(210.1,502.0) scale(0.87,1)" font-size="9.4" font-weight="bold" text-anchor="end" fill="#111">60</text>
<text transform="translate(210.1,479.2) scale(0.87,1)" font-size="9.4" font-weight="bold" text-anchor="end" fill="#111">80</text>
<text transform="translate(210.1,456.3) scale(0.87,1)" font-size="9.4" font-weight="bold" text-anchor="end" fill="#111">100</text>
<text transform="translate(238.5,578.2) rotate(-45) scale(0.86,1)" font-size="10.6" font-weight="bold" text-anchor="end" fill="#111">Mild</text>
<text transform="translate(264.3,578.2) rotate(-45) scale(0.86,1)" font-size="10.6" font-weight="bold" text-anchor="end" fill="#111">Moderate</text>
<text transform="translate(289.9,578.2) rotate(-45) scale(0.86,1)" font-size="10.6" font-weight="bold" text-anchor="end" fill="#111">Severe</text>
<text transform="translate(315.7,578.2) rotate(-45) scale(0.86,1)" font-size="10.6" font-weight="bold" text-anchor="end" fill="#111">Dangerous</text>
<text transform="translate(190.8,514.6) rotate(-90)" font-size="10.8" font-weight="bold" text-anchor="middle" fill="#111">Mortality Rate(%)</text>
<rect x="398.8" y="505.4" width="22.1" height="64.3" fill="#4f9ff3"/>
<rect x="431.2" y="465.5" width="22.1" height="104.2" fill="#f87b7b"/>
<path d="M388.2,453.5V569.7H463.9" fill="none" stroke="#1a1a1a" stroke-width="1.9"/>
<path d="M383.7,569.7H388.2M383.7,531.0H388.2M383.7,492.2H388.2M383.7,453.5H388.2M409.9,569.7v4.5M442.2,569.7v4.5" stroke="#1a1a1a" stroke-width="1.6"/>
<text transform="translate(382.4,573.1) scale(0.87,1)" font-size="9.4" font-weight="bold" text-anchor="end" fill="#111">0</text>
<text transform="translate(382.4,534.4) scale(0.87,1)" font-size="9.4" font-weight="bold" text-anchor="end" fill="#111">20</text>
<text transform="translate(382.4,495.6) scale(0.87,1)" font-size="9.4" font-weight="bold" text-anchor="end" fill="#111">40</text>
<text transform="translate(382.4,456.9) scale(0.87,1)" font-size="9.4" font-weight="bold" text-anchor="end" fill="#111">60</text>
<text x="409.9" y="584.2" font-size="8.3" font-weight="bold" text-anchor="middle" fill="#111">CIS1</text>
<text x="442.2" y="584.2" font-size="8.3" font-weight="bold" text-anchor="middle" fill="#111">CIS2</text>
<text x="422.6" y="598.6" font-size="10.5" font-weight="bold" text-anchor="middle" fill="#111">Subphenotype</text>
<text transform="translate(359.5,513) rotate(-90)" font-size="10.8" font-weight="bold" text-anchor="middle" fill="#111">Mortality Rate(%)</text>
<defs><clipPath id="hclip"><rect x="534" y="453.5" width="140" height="120"/></clipPath></defs>
<path d="M534.3,453.5V567.7" fill="none" stroke="#1a1a1a" stroke-width="1.9"/>
<path d="M533.5,567.7H669.3" fill="none" stroke="#111" stroke-width="2.8"/>
<path d="M529.8,567.7H534.3M531.8,556.3H534.3M531.8,544.9H534.3M531.8,533.4H534.3M531.8,522.0H534.3M529.8,510.6H534.3M531.8,499.2H534.3M531.8,487.8H534.3M531.8,476.3H534.3M531.8,464.9H534.3M529.8,453.5H534.3M555.4,567.7v4.5M586.1,567.7v4.5M616.6,567.7v4.5M648,567.7v4.5" stroke="#1a1a1a" stroke-width="1.6"/>
<g clip-path="url(#hclip)"><path d="M555.4,566.8L586.1,510.6L616.6,510.6L648,453.5" fill="none" stroke="#f87b7b" stroke-width="2.4"/><rect x="553.1" y="564.5" width="4.6" height="4.6" fill="#f87b7b"/><rect x="583.8000000000001" y="508.3" width="4.6" height="4.6" fill="#f87b7b"/><rect x="614.3000000000001" y="508.3" width="4.6" height="4.6" fill="#f87b7b"/><rect x="645.7" y="451.2" width="4.6" height="4.6" fill="#f87b7b"/><path d="M555.4,566.8L586.1,566.8L616.6,529.7L648,469.8" fill="none" stroke="#4f9ff3" stroke-width="2.4"/><circle cx="555.4" cy="566.8" r="2.4" fill="#4f9ff3"/><circle cx="586.1" cy="566.8" r="2.4" fill="#4f9ff3"/><circle cx="616.6" cy="529.7" r="2.4" fill="#4f9ff3"/><circle cx="648" cy="469.8" r="2.4" fill="#4f9ff3"/></g>
<text transform="translate(528.5,571.1) scale(0.87,1)" font-size="9.4" font-weight="bold" text-anchor="end" fill="#111">0</text>
<text transform="translate(528.5,514.0) scale(0.87,1)" font-size="9.4" font-weight="bold" text-anchor="end" fill="#111">50</text>
<text transform="translate(528.5,456.9) scale(0.87,1)" font-size="9.4" font-weight="bold" text-anchor="end" fill="#111">100</text>
<text transform="translate(560.8,578.1) rotate(-45) scale(0.9,1)" font-size="10.3" font-weight="bold" text-anchor="end" fill="#111">Mild</text>
<text transform="translate(591.5,578.1) rotate(-45) scale(0.9,1)" font-size="10.3" font-weight="bold" text-anchor="end" fill="#111">Morderate</text>
<text transform="translate(622.0,578.1) rotate(-45) scale(0.9,1)" font-size="10.3" font-weight="bold" text-anchor="end" fill="#111">Severe</text>
<text transform="translate(653.4,578.1) rotate(-45) scale(0.9,1)" font-size="10.3" font-weight="bold" text-anchor="end" fill="#111">Dangerous</text>
<text transform="translate(507,512.2) rotate(-90)" font-size="10.8" font-weight="bold" text-anchor="middle" fill="#111">Mortality Rate(%)</text>
<path d="M557.3,460.4H571" stroke="#4f9ff3" stroke-width="2.4"/><circle cx="564.2" cy="460.4" r="2.4" fill="#4f9ff3"/>
<path d="M557.3,475.5H571" stroke="#f87b7b" stroke-width="2.4"/><rect x="561.9" y="473.2" width="4.6" height="4.6" fill="#f87b7b"/>
<text x="576.7" y="464" font-size="9" fill="#222">CIS1</text><text x="576.7" y="479" font-size="9" fill="#222">CIS2</text>
<path d="M0,0.5H685M0,616.5H685" stroke="#1f7a4d" stroke-width="1.1" stroke-dasharray="7.1 3.936" stroke-dashoffset="3.236"/>
<path d="M0.5,0V617M684.5,0V617" stroke="#1f7a4d" stroke-width="1.1" stroke-dasharray="7 4" stroke-dashoffset="3.2"/>
</svg></body></html>
